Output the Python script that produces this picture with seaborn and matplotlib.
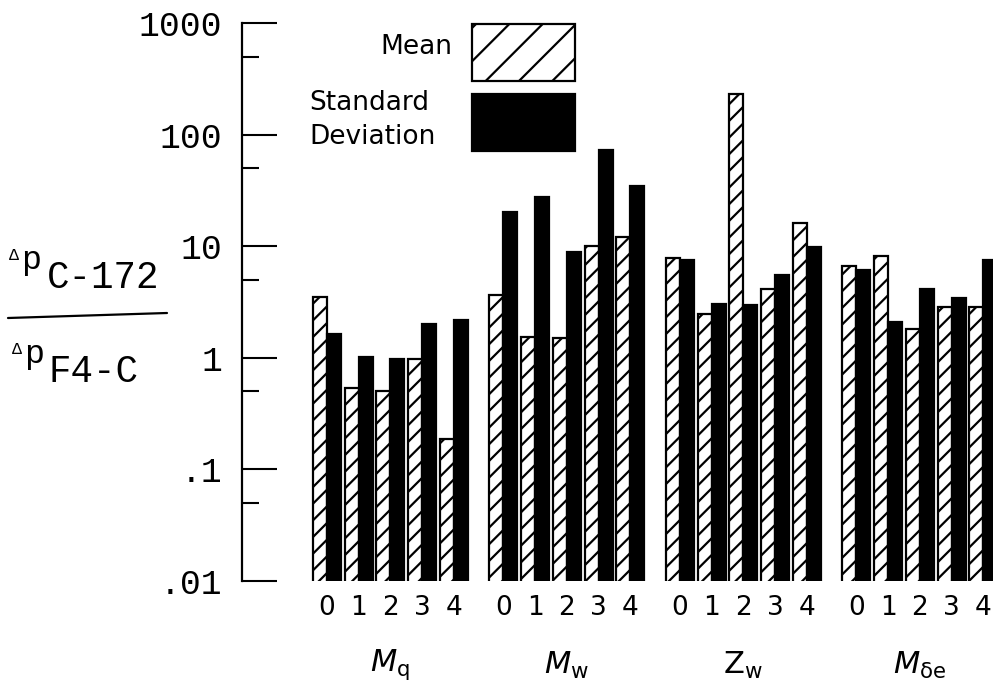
import numpy as np
import pandas as pd
import seaborn as sns
import matplotlib.pyplot as plt
import matplotlib.transforms as mtransforms
from matplotlib.patches import Rectangle
from matplotlib.lines import Line2D
from matplotlib.ticker import NullFormatter

# values (ratio, log scale)
groups = [r'$\mathit{M}_{\mathrm{q}}$', r'$\mathit{M}_{\mathrm{w}}$',
          r'$\mathrm{Z}_{\mathrm{w}}$', r'$\mathit{M}_{\mathrm{\delta e}}$']
cases = ['0', '1', '2', '3', '4']
mean_vals = [
    [3.47, 0.535, 0.50, 0.97, 0.187],   # Mq
    [3.67, 1.55, 1.50, 9.96, 12.1],     # Mw
    [7.9, 2.47, 232, 4.13, 16.3],       # Zw
    [6.6, 8.1, 1.83, 2.88, 2.88],       # Mde
]
std_vals = [
    [1.63, 1.01, 0.97, 2.02, 2.19],
    [20.3, 27.6, 8.87, 72.3, 34.4],
    [7.6, 3.03, 2.99, 5.55, 9.75],
    [6.07, 2.09, 4.16, 3.43, 7.57],
]
ytick_vals = [0.01, 0.1, 1, 10, 100, 1000]
ytick_labels = ['.01', '.1', '1', '10', '100', '1000']
yminor_vals = [0.05, 0.5, 5, 50, 500]

group_step = 5.55
rows = []
for g in range(len(groups)):
    for i, c in enumerate(cases):
        pos = g * group_step + i
        rows.append({'pos': pos, 'stat': 'Mean', 'val': mean_vals[g][i]})
        rows.append({'pos': pos, 'stat': 'Standard Deviation', 'val': std_vals[g][i]})
df = pd.DataFrame(rows)

sns.set_style('white')
plt.rcParams['hatch.linewidth'] = 1.6
plt.rcParams['text.color'] = 'black'
plt.rcParams['xtick.color'] = 'black'
plt.rcParams['ytick.color'] = 'black'
plt.rcParams['axes.labelcolor'] = 'black'
mono = ['Liberation Mono', 'DejaVu Sans Mono']
sans = ['DejaVu Sans']

W, H = 993, 690
def fx(x):
    return x / W
def fy(y):
    return 1 - y / H

fig = plt.figure(figsize=(9.93, 6.9), dpi=100)
ax = fig.add_axes([fx(241.7), fy(581), fx(993) - fx(241.7), fy(23) - fy(581)])

sns.barplot(data=df, x='pos', y='val', hue='stat', native_scale=True,
            hue_order=['Mean', 'Standard Deviation'],
            palette={'Mean': 'white', 'Standard Deviation': 'black'},
            edgecolor='black', linewidth=1.6, width=0.88, legend=False, ax=ax)
for bar in ax.containers[0]:
    bar.set_hatch('//')

ax.set_yscale('log')
ax.set_ylim(0.01, 1000)
ax.set_xlim(-2.673, 20.95)
ax.set_yticks(ytick_vals, ytick_labels, fontfamily=mono, fontsize=25)
ax.set_yticks(yminor_vals, minor=True)
ax.yaxis.set_minor_formatter(NullFormatter())
ax.tick_params(axis='y', which='major', direction='in', length=25, width=1.5,
               pad=14, left=True, colors='black')
ax.tick_params(axis='y', which='minor', direction='in', length=12.5, width=1.5,
               left=True, colors='black')

xpos = [g * group_step + i for g in range(len(groups)) for i in range(len(cases))]
ax.set_xticks(xpos, cases * len(groups), fontfamily=sans, fontsize=19)
ax.tick_params(axis='x', length=0, pad=10, colors='black')
ax.set_xlabel('')
ax.set_ylabel('')
for s in ['top', 'right', 'bottom']:
    ax.spines[s].set_visible(False)
ax.spines['left'].set_linewidth(1.6)
ax.spines['left'].set_color('black')

# group labels
trans = mtransforms.blended_transform_factory(ax.transData, fig.transFigure)
for g, name in enumerate(groups):
    ax.text(g * group_step + 2, fy(665), name, transform=trans,
            ha='center', va='center', fontsize=22, color='black')

# y-axis label as a fraction
fig.text(fx(9), fy(256), 'Δ', fontfamily=mono, fontsize=12, ha='left', va='center')
fig.text(fx(21), fy(261), 'p', fontfamily=mono, fontsize=24, ha='left', va='center')
fig.text(fx(47), fy(278), 'C-172', fontfamily=mono, fontsize=27, ha='left', va='center')
fig.add_artist(Line2D([fx(8), fx(167)], [fy(318), fy(313)], color='black', lw=1.6,
                      transform=fig.transFigure))
fig.text(fx(12), fy(350), 'Δ', fontfamily=mono, fontsize=12, ha='left', va='center')
fig.text(fx(24), fy(355), 'p', fontfamily=mono, fontsize=24, ha='left', va='center')
fig.text(fx(49), fy(372), 'F4-C', fontfamily=mono, fontsize=27, ha='left', va='center')

# legend
fig.add_artist(Rectangle((fx(472), fy(80.5)), fx(575) - fx(472), fy(24) - fy(80.5),
                         transform=fig.transFigure, facecolor='white', edgecolor='black',
                         hatch='/', lw=1.6))
fig.add_artist(Rectangle((fx(472), fy(150.5)), fx(575) - fx(472), fy(93.5) - fy(150.5),
                         transform=fig.transFigure, facecolor='black', edgecolor='black', lw=1.6))
fig.text(fx(452), fy(47), 'Mean', fontfamily=sans, fontsize=19, ha='right', va='center')
fig.text(fx(309), fy(103), 'Standard', fontfamily=sans, fontsize=19, ha='left', va='center')
fig.text(fx(309), fy(137), 'Deviation', fontfamily=sans, fontsize=19, ha='left', va='center')

fig.savefig('out.png', dpi=100)
